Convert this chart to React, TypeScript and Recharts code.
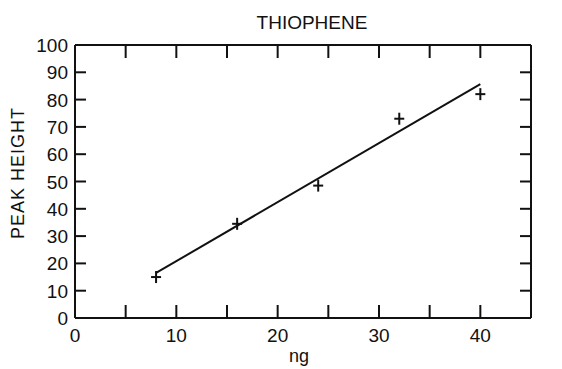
import { ComposedChart, Line, Scatter, XAxis, YAxis, Customized } from 'recharts';

const ngValues = [8, 16, 24, 32, 40];
const peakHeights = [15, 34.5, 48.5, 73, 82];

const fitNg = [8, 40];
const fitHeight = [16.5, 85.7];

const xTicks = [0, 5, 10, 15, 20, 25, 30, 35, 40, 45];
const yTicks = [0, 10, 20, 30, 40, 50, 60, 70, 80, 90, 100];

const points = ngValues.map((x, i) => ({ x, y: peakHeights[i] }));
const fitLine = fitNg.map((x, i) => ({ x, y: fitHeight[i] }));

const FONT = '"Liberation Sans", Arial, sans-serif';
const INK = '#111';

function BottomTick(props: any) {
  const { x, y, payload } = props;
  const v = payload.value;
  const edge = v === 0 || v === 45;
  return (
    <g>
      {!edge && <line x1={x} y1={y} x2={x} y2={y - 13} stroke={INK} strokeWidth={2} />}
      {v % 10 === 0 && (
        <text x={x} y={y + 24} textAnchor="middle" fontSize={19} fontFamily={FONT} fill={INK}>
          {v}
        </text>
      )}
    </g>
  );
}

function TopTick(props: any) {
  const { x, y, payload } = props;
  const v = payload.value;
  if (v === 0 || v === 45) return <g />;
  return <line x1={x} y1={y} x2={x} y2={y + 13} stroke={INK} strokeWidth={2} />;
}

function LeftTick(props: any) {
  const { x, y, payload } = props;
  const v = payload.value;
  const edge = v === 0 || v === 100;
  return (
    <g>
      {!edge && <line x1={x} y1={y} x2={x + 11} y2={y} stroke={INK} strokeWidth={2} />}
      <text x={x - 7} y={y + 7} textAnchor="end" fontSize={19} fontFamily={FONT} fill={INK}>
        {v}
      </text>
    </g>
  );
}

function RightTick(props: any) {
  const { x, y, payload } = props;
  const v = payload.value;
  if (v === 0 || v === 100) return <g />;
  return <line x1={x} y1={y} x2={x - 11} y2={y} stroke={INK} strokeWidth={2} />;
}

function Cross(props: any) {
  const { cx, cy } = props;
  return (
    <g>
      <line x1={cx - 5} y1={cy} x2={cx + 5} y2={cy} stroke={INK} strokeWidth={2} />
      <line x1={cx} y1={cy - 6} x2={cx} y2={cy + 6} stroke={INK} strokeWidth={2} />
    </g>
  );
}

function Titles() {
  return (
    <g fontFamily={FONT} fill={INK}>
      <text x={312} y={29} textAnchor="middle" fontSize={19}>THIOPHENE</text>
      <text x={299} y={362} textAnchor="middle" fontSize={18}>ng</text>
      <text
        x={24}
        y={173}
        textAnchor="middle"
        fontSize={18}
        letterSpacing={1}
        transform="rotate(-90 24 173)"
      >
        PEAK HEIGHT
      </text>
    </g>
  );
}

export default function App() {
  return (
    <div style={{ position: 'absolute', left: 0, top: 0, background: '#fff' }}>
      <ComposedChart width={562} height={369} margin={{ top: 44, right: 30, bottom: 21, left: 35 }}>
        <XAxis
          xAxisId="bottom"
          dataKey="x"
          type="number"
          domain={[0, 45]}
          ticks={xTicks}
          interval={0}
          height={30}
          tickSize={0}
          tickMargin={0}
          tickLine={false}
          axisLine={{ stroke: INK, strokeWidth: 2 }}
          tick={<BottomTick />}
        />
        <XAxis
          xAxisId="top"
          orientation="top"
          dataKey="x"
          type="number"
          domain={[0, 45]}
          ticks={xTicks}
          interval={0}
          height={1}
          tickSize={0}
          tickMargin={0}
          tickLine={false}
          axisLine={{ stroke: INK, strokeWidth: 2 }}
          tick={<TopTick />}
        />
        <YAxis
          yAxisId="left"
          type="number"
          domain={[0, 100]}
          ticks={yTicks}
          interval={0}
          width={40}
          tickSize={0}
          tickMargin={0}
          tickLine={false}
          axisLine={{ stroke: INK, strokeWidth: 2 }}
          tick={<LeftTick />}
        />
        <YAxis
          yAxisId="right"
          orientation="right"
          type="number"
          domain={[0, 100]}
          ticks={yTicks}
          interval={0}
          width={1}
          tickSize={0}
          tickMargin={0}
          tickLine={false}
          axisLine={{ stroke: INK, strokeWidth: 2 }}
          tick={<RightTick />}
        />
        <Line
          xAxisId="bottom"
          yAxisId="left"
          data={fitLine}
          dataKey="y"
          stroke={INK}
          strokeWidth={2}
          dot={false}
          isAnimationActive={false}
        />
        <Scatter
          xAxisId="top"
          yAxisId="right"
          data={points}
          dataKey="y"
          shape={<Cross />}
          isAnimationActive={false}
        />
        <Customized component={Titles} />
      </ComposedChart>
    </div>
  );
}
